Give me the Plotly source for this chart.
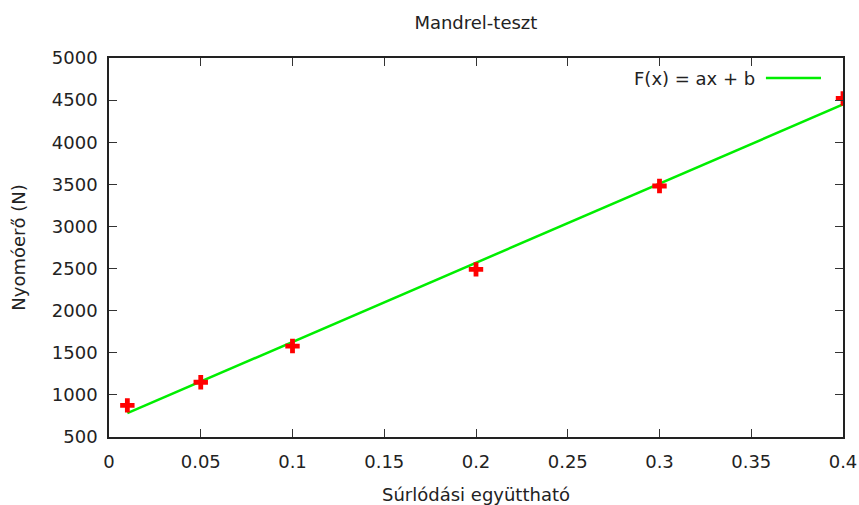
import numpy as np
import plotly.graph_objects as go

# Data
friction = [0.01, 0.05, 0.1, 0.2, 0.3, 0.4]
force = [875, 1150, 1580, 2490, 3480, 4520]

x_ticks = [0, 0.05, 0.1, 0.15, 0.2, 0.25, 0.3, 0.35, 0.4]
x_tick_text = ["0", "0.05", "0.1", "0.15", "0.2", "0.25", "0.3", "0.35", "0.4"]
y_ticks = [500, 1000, 1500, 2000, 2500, 3000, 3500, 4000, 4500, 5000]

title = "Mandrel-teszt"
x_title = "Súrlódási együttható"
y_title = "Nyomóerő (N)"
fit_label = "F(x) = ax + b"

# Linear fit F(x) = a x + b
a, b = np.polyfit(friction, force, 1)
fit_x = [min(friction), max(friction)]
fit_y = [a * v + b for v in fit_x]

FONT = "DejaVu Sans"
GREEN = "#00ee00"
TXT = "#222222"
FS = 18

fig = go.Figure()
fig.add_trace(go.Scatter(
    x=fit_x, y=fit_y, mode="lines",
    line=dict(color=GREEN, width=2.5),
    showlegend=False, hoverinfo="skip",
))
fig.add_trace(go.Scatter(
    x=friction, y=force, mode="markers",
    marker=dict(symbol="cross", size=12, color="#ff0000", line=dict(width=0)),
    showlegend=False,
))

axis_common = dict(
    showgrid=False, zeroline=False, showline=True, linecolor=TXT,
    linewidth=1.5, mirror="ticks", ticks="inside", ticklen=8, tickwidth=1.2,
    tickcolor="#333333", tickfont=dict(family=FONT, size=FS, color=TXT),
    automargin=False,
)

fig.update_xaxes(
    range=[0, 0.4], tickvals=x_ticks, ticktext=x_tick_text, ticklabelstandoff=8,
    title=dict(text=x_title, font=dict(family=FONT, size=FS, color=TXT), standoff=17),
    **axis_common,
)
fig.update_yaxes(
    range=[500, 5000], tickvals=y_ticks, ticklabelstandoff=6,
    title=dict(text=y_title, font=dict(family=FONT, size=FS, color=TXT), standoff=22),
    **axis_common,
)

# gnuplot-style key: text followed by line sample, top right inside the plot
fig.add_annotation(
    x=0.883, y=0.947, xref="paper", yref="paper", xanchor="right", yanchor="middle",
    text=fit_label, showarrow=False, font=dict(family=FONT, size=FS, color=TXT),
)
fig.add_shape(
    type="line", xref="paper", yref="paper", x0=0.895, x1=0.970, y0=0.947, y1=0.947,
    line=dict(color=GREEN, width=2.5),
)

fig.update_layout(
    width=859, height=505,
    margin=dict(l=109, r=16, t=58, b=68),
    paper_bgcolor="white", plot_bgcolor="white",
    title=dict(text=title, x=0.554, xanchor="center", y=0.955, yanchor="middle",
               font=dict(family=FONT, size=FS, color=TXT)),
    font=dict(family=FONT),
)

fig.write_html("out.html")
